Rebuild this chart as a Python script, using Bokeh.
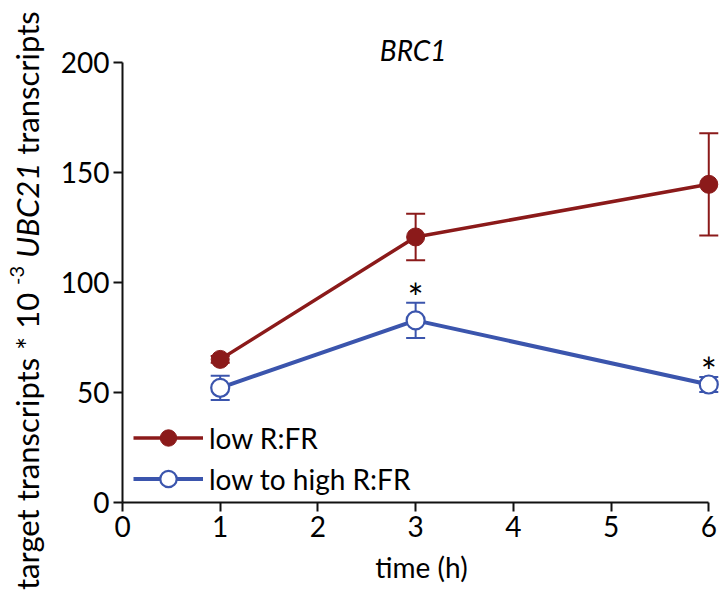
from bokeh.plotting import figure
from bokeh.models import (ColumnDataSource, Range1d, Whisker, Label, Legend,
                          LegendItem, FixedTicker, Div)
from bokeh.layouts import row
from bokeh.core.properties import value
from bokeh.embed import file_html
from bokeh.resources import INLINE

# ---- data ----
times = [1, 3, 6]
low_mean = [65, 120.6, 144.5]
low_err = [1.5, 10.6, 23.2]
high_mean = [52.1, 82.7, 53.6]
high_err = [5.5, 8.0, 3.4]
sig_times = [3, 6]
x_ticks = [0, 1, 2, 3, 4, 5, 6]
y_ticks = [0, 50, 100, 150, 200]
title_text = "BRC1"
series_labels = ["low R:FR", "low to high R:FR"]
ylabel_main, ylabel_sup, ylabel_gene, ylabel_tail = (
    "target transcripts * 10", "-3", "UBC21", "transcripts")

RED = "#8b1a1a"
BLUE = "#3b55ad"
FONT = "Lato"
H = 593
LAB_W = 45

# ---- rotated, mixed-style y-axis label (real HTML text) ----
ylab_html = (
    '<div style="writing-mode:vertical-rl;transform:rotate(180deg);'
    'height:590px;width:40px;line-height:40px;margin:0 0 0 -4px;padding:0;'
    'font-family:Lato;font-size:31px;color:black;white-space:nowrap;'
    'text-align:left;">'
    f'{ylabel_main} <sup style="font-size:20px">{ylabel_sup}</sup> '
    f'<i>{ylabel_gene}</i> {ylabel_tail}</div>')
lab = Div(text=ylab_html, width=LAB_W, height=H,
          styles={"margin": "0", "padding": "0", "overflow": "visible"})

# ---- main chart ----
p = figure(width=720 - LAB_W, height=H, output_backend="svg", toolbar_location=None,
           x_range=Range1d(0, 6.12), y_range=Range1d(0, 228),
           min_border_left=122 - LAB_W, min_border_right=0, min_border_top=0,
           min_border_bottom=91)
p.outline_line_color = None
p.grid.visible = False
p.background_fill_color = "white"

for ax in (p.xaxis, p.yaxis):
    ax.axis_line_width = 2
    ax.axis_line_color = "#111111"
    ax.major_tick_line_width = 2
    ax.major_tick_line_color = "#111111"
    ax.major_tick_in = 0
    ax.major_tick_out = 9
    ax.minor_tick_line_color = None
    ax.major_label_text_font = FONT
    ax.major_label_text_font_size = "28px"
    ax.major_label_text_color = "black"
p.xaxis.ticker = FixedTicker(ticks=x_ticks)
p.yaxis.ticker = FixedTicker(ticks=y_ticks)
p.xaxis.bounds = (0, 6)
p.yaxis.bounds = (0, 200)
p.xaxis.major_label_standoff = 4
p.yaxis.major_label_standoff = 4
p.xaxis.axis_label = "time (h)"
p.xaxis.axis_label_text_font = FONT
p.xaxis.axis_label_text_font_size = "28px"
p.xaxis.axis_label_text_font_style = "normal"
p.xaxis.axis_label_text_color = "black"
p.xaxis.axis_label_standoff = 10

src_low = ColumnDataSource(dict(x=times, y=low_mean,
                                lo=[m - e for m, e in zip(low_mean, low_err)],
                                hi=[m + e for m, e in zip(low_mean, low_err)]))
src_high = ColumnDataSource(dict(x=times, y=high_mean,
                                 lo=[m - e for m, e in zip(high_mean, high_err)],
                                 hi=[m + e for m, e in zip(high_mean, high_err)]))

for src, col in ((src_low, RED), (src_high, BLUE)):
    w = Whisker(source=src, base="x", lower="lo", upper="hi", line_color=col,
                line_width=2)
    w.upper_head.size = 19
    w.lower_head.size = 19
    w.upper_head.line_color = col
    w.lower_head.line_color = col
    w.upper_head.line_width = 2
    w.lower_head.line_width = 2
    p.add_layout(w)

l_red = p.line("x", "y", source=src_low, line_color=RED, line_width=3.5)
l_blue = p.line("x", "y", source=src_high, line_color=BLUE, line_width=4)
s_red = p.scatter("x", "y", source=src_low, size=18, fill_color=RED,
                  line_color=RED, line_width=1)
s_blue = p.scatter("x", "y", source=src_high, size=18, fill_color="white",
                   line_color=BLUE, line_width=2.2)

sig_src = ColumnDataSource(dict(
    x=sig_times,
    y=[high_mean[times.index(t)] + high_err[times.index(t)] for t in sig_times],
    t=["*"] * len(sig_times)))
p.text("x", "y", text="t", source=sig_src, text_font=value(FONT),
       text_font_size="38px", text_align="center", text_baseline="middle",
       y_offset=-6, text_color="black")

p.add_layout(Label(x=2.975, y=205.5, text=title_text, text_font=FONT,
                   text_font_size="28px", text_font_style="italic",
                   text_color="black",
                   text_align="center", text_baseline="middle"))

legend = Legend(items=[LegendItem(label=series_labels[0], renderers=[l_red, s_red]),
                       LegendItem(label=series_labels[1], renderers=[l_blue, s_blue])],
                location=(11, 3), glyph_width=70, glyph_height=41, spacing=0,
                padding=0, margin=0, label_standoff=6,
                label_text_font=FONT, label_text_font_size="28px",
                label_text_color="black",
                border_line_color=None, background_fill_alpha=0)
p.add_layout(legend)

layout = row(lab, p, spacing=0)
open("out.html", "w").write(file_html(layout, INLINE))
